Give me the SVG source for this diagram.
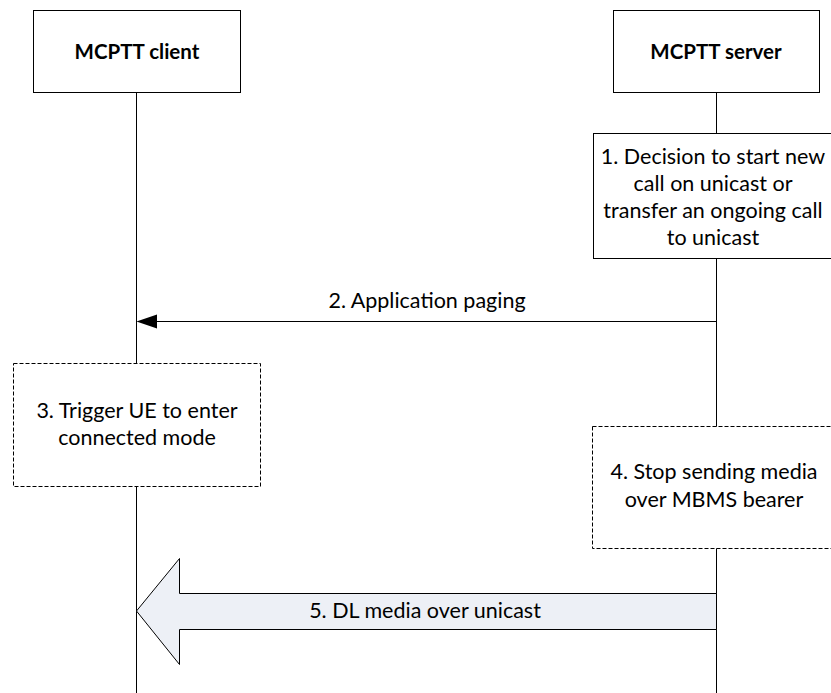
<svg xmlns="http://www.w3.org/2000/svg" width="831" height="693" viewBox="0 0 831 693">
<style>
.box{fill:#fff;stroke:#000;stroke-width:1}
.dash{fill:#fff;stroke:#000;stroke-width:1;stroke-dasharray:4 2}
.life{stroke:#000;stroke-width:1;fill:none}
text{font-family:Lato,"Liberation Sans",sans-serif;font-size:21.5px;fill:#000;text-anchor:middle}
.b{font-weight:bold;font-size:20.5px}
</style>
<rect width="831" height="693" fill="#fff"/>
<g id="lifelines">
<line class="life" x1="136.5" y1="92" x2="136.5" y2="693"/>
<line class="life" x1="716.5" y1="92" x2="716.5" y2="693"/>
</g>
<g id="client">
<rect class="box" x="33.5" y="10.5" width="207" height="82"/>
<text class="b" x="137" y="59">MCPTT client</text>
</g>
<g id="server">
<rect class="box" x="613.5" y="10.5" width="206" height="82"/>
<text class="b" x="716" y="59">MCPTT server</text>
</g>
<g id="step1">
<rect class="box" x="593.5" y="133.5" width="240" height="125"/>
<text x="713" y="164">1. Decision to start new</text>
<text x="713" y="191">call on unicast or</text>
<text x="713" y="218">transfer an ongoing call</text>
<text x="713" y="245">to unicast</text>
</g>
<g id="step3">
<rect class="dash" x="13.5" y="363.5" width="247" height="123"/>
<text x="137" y="418">3. Trigger UE to enter</text>
<text x="137" y="445">connected mode</text>
</g>
<g id="step4">
<rect class="dash" x="592.5" y="426.5" width="240" height="122"/>
<text x="714" y="479">4. Stop sending media</text>
<text x="714" y="507">over MBMS bearer</text>
</g>
<g id="connectors">
<line x1="716.5" y1="321.5" x2="156" y2="321.5" stroke="#000" stroke-width="1"/>
<path d="M136.5,321.5 L157,314.5 L157,328.5 Z" fill="#000"/>
<text x="427" y="308">2. Application paging</text>
<path d="M716.5,593.5 L179.5,593.5 L179.5,558.5 L136.5,611 L179.5,664.5 L179.5,629.5 L716.5,629.5 Z" fill="#edf0f6" stroke="#000" stroke-width="1"/>
<text x="425" y="618">5. DL media over unicast</text>
</g>
</svg>
